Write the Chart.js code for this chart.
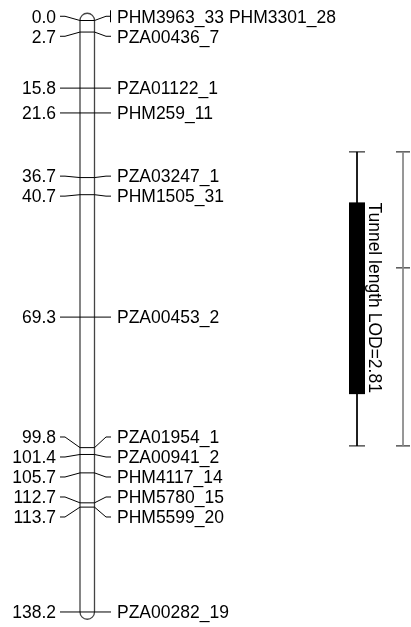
<!DOCTYPE html>
<html>
<head>
<meta charset="utf-8">
<script src="https://cdn.jsdelivr.net/npm/chart.js"></script>
<style>
  html, body { margin: 0; padding: 0; background: #fff; }
  #wrap { width: 411px; height: 627px; }
</style>
</head>
<body>
<div id="wrap"><canvas id="linkageMap"></canvas></div>
<script>
// marker positions (cM) and names, top to bottom
const positions = [0.0, 0.0, 2.7, 15.8, 21.6, 36.7, 40.7, 69.3, 99.8, 101.4, 105.7, 112.7, 113.7, 138.2];
const markerNames = ['PHM3963_33', 'PHM3301_28', 'PZA00436_7', 'PZA01122_1', 'PHM259_11', 'PZA03247_1',
  'PHM1505_31', 'PZA00453_2', 'PZA01954_1', 'PZA00941_2', 'PHM4117_14', 'PHM5780_15', 'PHM5599_20', 'PZA00282_19'];

// QTL: LOD-1 box, LOD-2 whiskers, second interval with peak tick
const qtlName = 'Tunnel length LOD=2.81';
const qtlBox = [42.5, 87.3];
const qtlWhisker = [30.7, 99.4];
const qtlPeak = 57.8;

const yMin = -4.79, yMax = 141.71;
const H = 627;
const pxPerCM = H / (yMax - yMin);
const labelGap = 20 / pxPerCM;

// group markers sharing a position
const groups = [];
positions.forEach((p, i) => {
  const last = groups[groups.length - 1];
  if (last && last.pos === p) last.names.push(markerNames[i]);
  else groups.push({ pos: p, names: [markerNames[i]] });
});

// spread labels so they don't overlap
let clusters = groups.map((g, i) => ({ idx: [i] }));
const place = c => {
  const mean = c.idx.reduce((s, i) => s + groups[i].pos, 0) / c.idx.length;
  c.idx.forEach((i, k) => { groups[i].lab = mean + (k - (c.idx.length - 1) / 2) * labelGap; });
};
clusters.forEach(place);
let merged = true;
while (merged) {
  merged = false;
  for (let j = 0; j < clusters.length - 1; j++) {
    const a = clusters[j], b = clusters[j + 1];
    if (groups[b.idx[0]].lab - groups[a.idx[a.idx.length - 1]].lab < labelGap - 1e-6) {
      a.idx = a.idx.concat(b.idx);
      clusters.splice(j + 1, 1);
      place(a);
      merged = true;
      break;
    }
  }
}

const CL = 80, CR = 94.5; // chromosome edges
const line = (pts, color, w) => ({
  data: pts, showLine: true, pointRadius: 0, borderColor: color || '#000',
  borderWidth: w || 1, fill: false, tension: 0
});

const datasets = [];
groups.forEach(g => {
  datasets.push(line([{ x: CL, y: g.pos }, { x: CR, y: g.pos }]));
  datasets.push(line([{ x: 60, y: g.lab }, { x: 65, y: g.lab }, { x: CL, y: g.pos }]));
  datasets.push(line([{ x: CR, y: g.pos }, { x: 106, y: g.lab }, { x: 111, y: g.lab }]));
});
// QTL whiskers
const qx = 357, qx2 = 403;
datasets.push(line([{ x: qx, y: qtlWhisker[0] }, { x: qx, y: qtlWhisker[1] }]));
datasets.push(line([{ x: 349, y: qtlWhisker[0] }, { x: 365, y: qtlWhisker[0] }]));
datasets.push(line([{ x: 349, y: qtlWhisker[1] }, { x: 365, y: qtlWhisker[1] }]));
datasets.push(line([{ x: qx2, y: qtlWhisker[0] }, { x: qx2, y: qtlWhisker[1] }], '#888'));
[qtlWhisker[0], qtlPeak, qtlWhisker[1]].forEach(v => {
  datasets.push(line([{ x: 396, y: v }, { x: 410, y: v }]));
});

const mapPlugin = {
  id: 'mapPlugin',
  beforeDatasetsDraw(chart) {
    const ctx = chart.ctx, y = chart.scales.y, x = chart.scales.x;
    const l = x.getPixelForValue(CL), r = x.getPixelForValue(CR);
    const rad = (r - l) / 2, cx = (l + r) / 2;
    const t = y.getPixelForValue(positions[0]), b = y.getPixelForValue(positions[positions.length - 1]);
    ctx.save();
    ctx.strokeStyle = '#444';
    ctx.lineWidth = 1.3;
    ctx.beginPath();
    ctx.moveTo(l, b);
    ctx.lineTo(l, t);
    ctx.arc(cx, t, rad, Math.PI, 0);
    ctx.lineTo(r, b);
    ctx.arc(cx, b, rad, 0, Math.PI);
    ctx.stroke();
    // QTL box
    const bt = y.getPixelForValue(qtlBox[0]), bb = y.getPixelForValue(qtlBox[1]);
    ctx.fillStyle = '#000';
    ctx.fillRect(x.getPixelForValue(349), bt, x.getPixelForValue(365) - x.getPixelForValue(349), bb - bt);
    ctx.restore();
  },
  afterDatasetsDraw(chart) {
    const ctx = chart.ctx, y = chart.scales.y, x = chart.scales.x;
    ctx.save();
    ctx.fillStyle = '#000';
    ctx.font = "17.5px 'Liberation Sans', Arial, sans-serif";
    ctx.textBaseline = 'middle';
    groups.forEach(g => {
      const ly = y.getPixelForValue(g.lab);
      ctx.textAlign = 'right';
      ctx.fillText(g.pos.toFixed(1), x.getPixelForValue(56), ly + 1.5);
      ctx.textAlign = 'left';
      ctx.fillText(g.names.join(' '), x.getPixelForValue(117), ly + 1.5);
      if (g.names.length > 1) {
        ctx.strokeStyle = '#000';
        ctx.lineWidth = 1;
        ctx.beginPath();
        ctx.moveTo(x.getPixelForValue(111) - 0.5, ly - 6);
        ctx.lineTo(x.getPixelForValue(111) - 0.5, ly + 6);
        ctx.stroke();
      }
    });
    // QTL label, rotated
    ctx.translate(x.getPixelForValue(369), y.getPixelForValue(qtlBox[0]));
    ctx.rotate(Math.PI / 2);
    ctx.textAlign = 'left';
    ctx.textBaseline = 'alphabetic';
    ctx.fillText(qtlName, 0, 0);
    ctx.restore();
  }
};

new Chart(document.getElementById('linkageMap'), {
  type: 'scatter',
  data: { datasets: datasets },
  options: {
    responsive: true,
    maintainAspectRatio: false,
    animation: false,
    layout: { padding: 0 },
    plugins: { legend: { display: false }, tooltip: { enabled: false } },
    scales: {
      x: { type: 'linear', min: 0, max: 411, display: false },
      y: { type: 'linear', min: yMin, max: yMax, reverse: true, display: false }
    },
    elements: { line: { borderCapStyle: 'butt' } }
  },
  plugins: [mapPlugin]
});
</script>
</body>
</html>
